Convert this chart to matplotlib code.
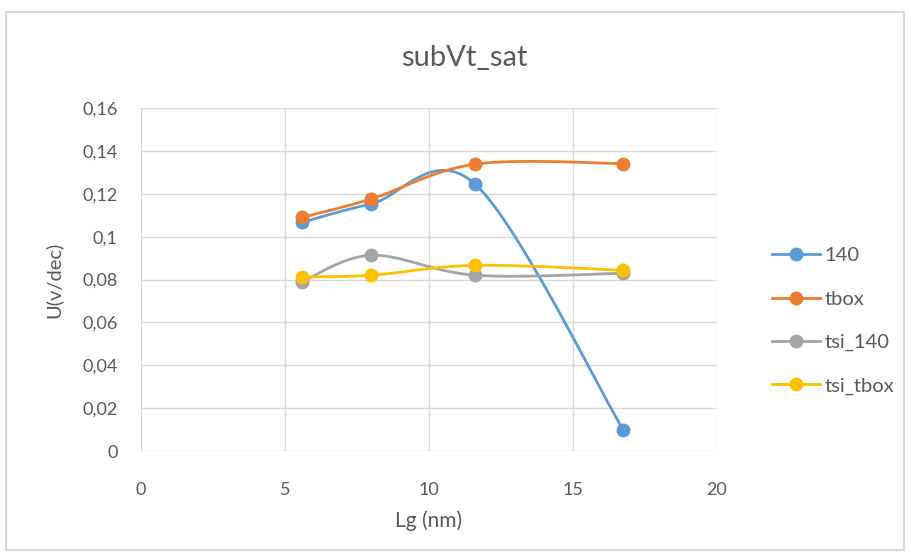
import numpy as np
import matplotlib
matplotlib.use('Agg')
import matplotlib.pyplot as plt
from matplotlib.lines import Line2D
from matplotlib.patches import Rectangle
from matplotlib.ticker import FuncFormatter

plt.rcParams['font.family'] = ['Lato', 'DejaVu Sans']

# data
lg = [5.6, 8.0, 11.6, 16.75]
u_140 = [0.1067, 0.1153, 0.1245, 0.0097]
u_tbox = [0.1090, 0.1176, 0.1338, 0.1341]
u_tsi_140 = [0.0790, 0.0913, 0.0820, 0.0829]
u_tsi_tbox = [0.0812, 0.0820, 0.0866, 0.0843]

series_names = ['140', 'tbox', 'tsi_140', 'tsi_tbox']
series_vals = [u_140, u_tbox, u_tsi_140, u_tsi_tbox]
colors = ['#5B9BD5', '#ED7D31', '#A5A5A5', '#FFC000']


def smooth(x, y, n=40):
    # Excel-like smoothed line (Catmull-Rom as cubic Bezier segments)
    p = np.column_stack([x, y]).astype(float)
    ext = np.vstack([p[0], p, p[-1]])
    out = []
    t = np.linspace(0, 1, n)[:, None]
    for i in range(len(p) - 1):
        p0, p1, p2, p3 = ext[i], ext[i + 1], ext[i + 2], ext[i + 3]
        c1 = p1 + (p2 - p0) / 6.0
        c2 = p2 - (p3 - p1) / 6.0
        seg = ((1 - t) ** 3) * p1 + 3 * ((1 - t) ** 2) * t * c1 + 3 * (1 - t) * t ** 2 * c2 + t ** 3 * p2
        out.append(seg if i == 0 else seg[1:])
    out = np.vstack(out)
    return out[:, 0], out[:, 1]


fig = plt.figure(figsize=(9.12, 5.56), dpi=100)
fig.patches.append(Rectangle((6 / 912, 1 - 550 / 556), 898 / 912, 538 / 556,
                             transform=fig.transFigure, fill=False,
                             edgecolor='#d9d9d9', linewidth=1.5))
ax = fig.add_axes([141 / 912, 1 - 451 / 556, 576 / 912, 343 / 556])

for name, vals, c in zip(series_names, series_vals, colors):
    sx, sy = smooth(lg, vals)
    ax.plot(sx, sy, color=c, linewidth=2.0, solid_capstyle='round', zorder=3)
    ax.plot(lg, vals, 'o', color=c, markersize=9, zorder=4)

ax.set_xlim(0, 20)
ax.set_ylim(0, 0.16)
ax.set_xticks([0, 5, 10, 15, 20])
ax.set_yticks(np.arange(0, 0.161, 0.02))
ax.yaxis.set_major_formatter(FuncFormatter(
    lambda v, pos: '0' if abs(v) < 1e-9 else ('%.2f' % v).rstrip('0').replace('.', ',')))
ax.grid(True, color='#d9d9d9', linewidth=1.0, zorder=0)
ax.set_axisbelow(True)
for s in ax.spines.values():
    s.set_visible(False)
ax.tick_params(length=0, labelsize=13, colors='#595959')
ax.tick_params(axis='y', pad=17)
ax.tick_params(axis='x', pad=22)

ax.set_xlabel('Lg (nm)', fontsize=15, color='#595959', labelpad=9)
ax.set_ylabel('U(v/dec)', fontsize=14.5, color='#595959', labelpad=14)
fig.text(464 / 912, 1 - 58 / 556, 'subVt_sat', fontsize=21, color='#595959',
         ha='center', va='center')

handles = [Line2D([], [], color=c, linewidth=2.0, marker='o', markersize=9, label=n)
           for n, c in zip(series_names, colors)]
fig.legend(handles=handles, loc='center left', bbox_to_anchor=(754 / 912, 1 - 321 / 556),
           frameon=False, fontsize=14.5, labelcolor='#595959', handlelength=2.4,
           labelspacing=1.3, handletextpad=0.2)

fig.savefig('out.png', dpi=100)
